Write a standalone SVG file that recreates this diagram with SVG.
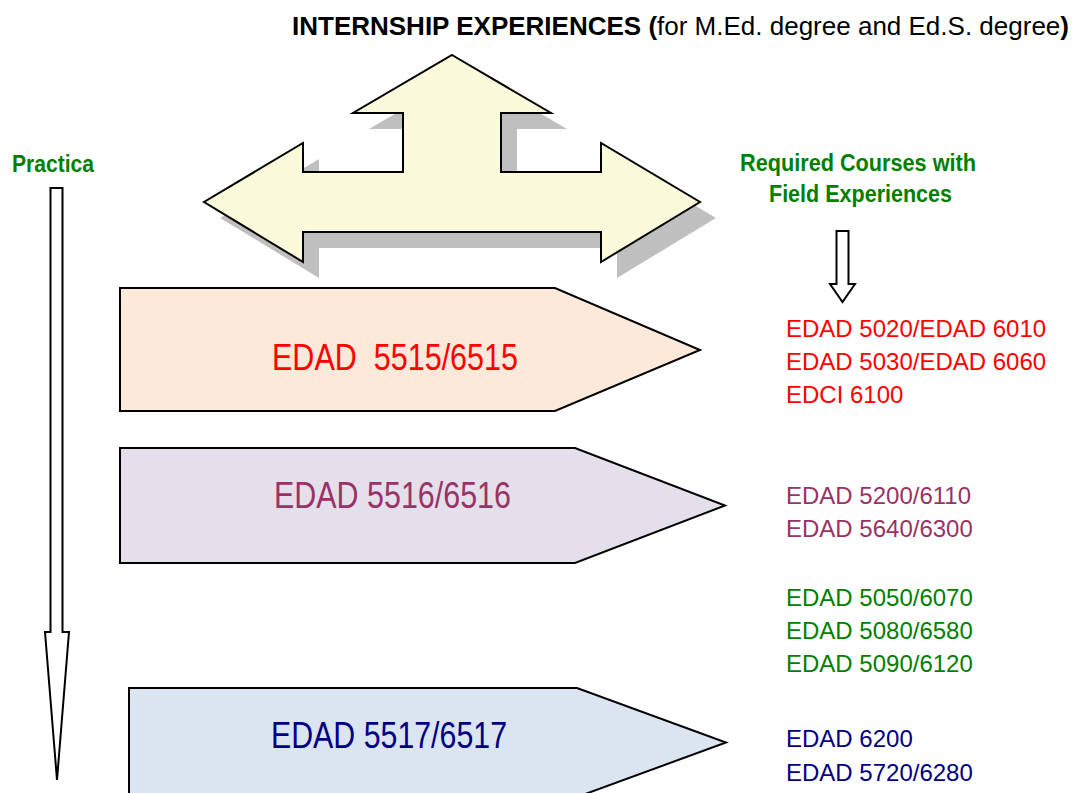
<svg xmlns="http://www.w3.org/2000/svg" width="1077" height="793" viewBox="0 0 1077 793">
<style>
.sans{font-family:"Liberation Sans",Arial,sans-serif}
.ttl{font-size:26px;fill:#000}
.hdr{font-size:23px;font-weight:bold;fill:#008000}
.lbl{font-size:36px}
.crs{font-size:24px}
.pent{stroke:#000;stroke-width:2;stroke-linejoin:miter}
.blk{fill:#fff;stroke:#000;stroke-width:2;stroke-linejoin:miter}
.red{fill:#ff0000}.pur{fill:#993366}.grn{fill:#008000}.nav{fill:#000080}
</style>
<rect width="1077" height="793" fill="#fff"/>
<g id="title">
<text class="sans ttl" x="292" y="35"><tspan font-weight="bold">INTERNSHIP EXPERIENCES (</tspan><tspan>for M.Ed. degree and Ed.S. degree</tspan><tspan font-weight="bold">)</tspan></text>
</g>
<g id="internship-hub">
<path transform="translate(16,16)" fill="#bfbfbf" d="M452,55 L551,113 L501,113 L501,172 L601,172 L601,143 L700,202 L601,262 L601,232 L303,232 L303,262 L204,202 L303,143 L303,172 L403,172 L403,113 L353,113 Z"/>
<path fill="#fbfbdc" stroke="#000" stroke-width="2" d="M452,55 L551,113 L501,113 L501,172 L601,172 L601,143 L700,202 L601,262 L601,232 L303,232 L303,262 L204,202 L303,143 L303,172 L403,172 L403,113 L353,113 Z"/>
</g>
<g id="practica-label">
<text class="sans hdr" x="12" y="172" font-size="25" textLength="82" lengthAdjust="spacingAndGlyphs">Practica</text>
</g>
<g id="required-label">
<text class="sans hdr" x="740" y="171" textLength="236" lengthAdjust="spacingAndGlyphs">Required Courses with</text>
<text class="sans hdr" x="769" y="202" textLength="183" lengthAdjust="spacingAndGlyphs">Field Experiences</text>
</g>
<g id="connectors">
<path class="blk" d="M50.5,188 L62.5,188 L62.5,632 L69,632 L57,780 L45,632 L50.5,632 Z"/>
<path class="blk" d="M836.5,231 L848.5,231 L848.5,284 L855,284 L842.5,302 L830,284 L836.5,284 Z"/>
</g>
<g id="edad-5515">
<path class="pent" fill="#fce9da" d="M120,288 L555,288 L700,350 L555,411 L120,411 Z"/>
<text class="sans lbl red" x="272" y="370" textLength="246" lengthAdjust="spacingAndGlyphs" xml:space="preserve">EDAD  5515/6515</text>
</g>
<g id="edad-5516">
<path class="pent" fill="#e5dfec" d="M120,448 L575,448 L725,505.5 L575,563 L120,563 Z"/>
<text class="sans lbl pur" x="274" y="508" textLength="237" lengthAdjust="spacingAndGlyphs">EDAD 5516/6516</text>
</g>
<g id="edad-5517">
<path class="pent" fill="#dbe5f1" d="M129,688 L577,688 L726,742.5 L577,797 L129,797 Z"/>
<text class="sans lbl nav" x="271" y="748" textLength="236" lengthAdjust="spacingAndGlyphs">EDAD 5517/6517</text>
</g>
<g id="courses-5515">
<text class="sans crs red" x="786" y="337">EDAD 5020/EDAD 6010</text>
<text class="sans crs red" x="786" y="370">EDAD 5030/EDAD 6060</text>
<text class="sans crs red" x="786" y="403">EDCI 6100</text>
</g>
<g id="courses-5516">
<text class="sans crs pur" x="786" y="504">EDAD 5200/6110</text>
<text class="sans crs pur" x="786" y="537">EDAD 5640/6300</text>
</g>
<g id="courses-green">
<text class="sans crs grn" x="786" y="606">EDAD 5050/6070</text>
<text class="sans crs grn" x="786" y="639">EDAD 5080/6580</text>
<text class="sans crs grn" x="786" y="672">EDAD 5090/6120</text>
</g>
<g id="courses-5517">
<text class="sans crs nav" x="786" y="747">EDAD 6200</text>
<text class="sans crs nav" x="786" y="781">EDAD 5720/6280</text>
</g>
</svg>
